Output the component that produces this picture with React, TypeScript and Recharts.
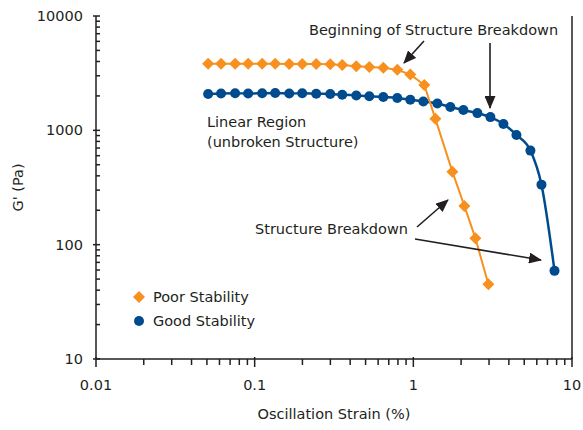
import React from 'react';
import { ComposedChart, Line, XAxis, YAxis, ReferenceLine, Legend, Label } from 'recharts';

// Strain sweep data (log-log)
const poorStrain = [
  0.0509, 0.0614, 0.0753, 0.091, 0.1115, 0.1347, 0.1651, 0.1994, 0.2443, 0.2995, 0.3565,
  0.4369, 0.528, 0.6466, 0.7925, 0.957, 1.173, 1.377, 1.762, 2.098, 2.461, 2.972,
];
const poorModulus = [
  3820, 3830, 3820, 3830, 3820, 3820, 3810, 3810, 3800, 3780, 3730,
  3640, 3580, 3520, 3380, 3080, 2490, 1260, 435, 218, 114, 45,
];

const goodStrain = [
  0.0509, 0.0614, 0.0753, 0.091, 0.1115, 0.1347, 0.1651, 0.1994, 0.2443, 0.2995, 0.3565,
  0.4369, 0.528, 0.6466, 0.7925, 0.957, 1.156, 1.417, 1.712, 2.068, 2.534, 3.06, 3.697,
  4.465, 5.47, 6.42, 7.76,
];
const goodModulus = [
  2080, 2100, 2110, 2100, 2110, 2120, 2100, 2110, 2090, 2080, 2050,
  2020, 1990, 1955, 1920, 1850, 1790, 1715, 1600, 1505, 1415, 1305, 1135,
  910, 665, 335, 59,
];

const xMajorTicks = [0.01, 0.1, 1, 10];
const xMinorTicks = [
  0.02, 0.03, 0.04, 0.05, 0.06, 0.07, 0.08, 0.09,
  0.2, 0.3, 0.4, 0.5, 0.6, 0.7, 0.8, 0.9,
  2, 3, 4, 5, 6, 7, 8, 9,
];
const yMajorTicks = [10, 100, 1000, 10000];
const yMinorTicks = [
  20, 30, 40, 50, 60, 70, 80, 90,
  200, 300, 400, 500, 600, 700, 800, 900,
  2000, 3000, 4000, 5000, 6000, 7000, 8000, 9000,
];

const poorData = poorStrain.map((x, i) => ({ x, y: poorModulus[i] }));
const goodData = goodStrain.map((x, i) => ({ x, y: goodModulus[i] }));

const INK = '#231f20';
const ORANGE = '#f7901e';
const BLUE = '#004b8d';
const FONT = '"DejaVu Sans", Lato, sans-serif';
const FS = 14.5;

function XTick({ x, y, payload }: any) {
  const major = xMajorTicks.includes(payload.value);
  return (
    <g>
      <line x1={x} x2={x} y1={major ? y - 2 : y} y2={y + (major ? 8 : 6)} stroke={INK} strokeWidth={1.5} />
      {major && (
        <text x={x} y={y + 31} textAnchor="middle" fontSize={FS} fill={INK} fontFamily={FONT}>
          {payload.value}
        </text>
      )}
    </g>
  );
}

function YTick({ x, y, payload }: any) {
  const major = yMajorTicks.includes(payload.value);
  return (
    <g>
      <line x1={major ? x - 3 : x} x2={x + 4} y1={y} y2={y} stroke={INK} strokeWidth={1.5} />
      {major && (
        <text x={x - 13} y={y + 5} textAnchor="end" fontSize={FS} fill={INK} fontFamily={FONT}>
          {payload.value}
        </text>
      )}
    </g>
  );
}

const diamondDot = (p: any) => {
  const { cx, cy, index } = p;
  const s = 6;
  return (
    <polygon
      key={`pd-${index}`}
      points={`${cx},${cy - s} ${cx + s},${cy} ${cx},${cy + s} ${cx - s},${cy}`}
      fill={ORANGE}
    />
  );
};

const circleDot = (p: any) => <circle key={`gd-${p.index}`} cx={p.cx} cy={p.cy} r={5} fill={BLUE} />;

function LegendBox() {
  const row = { display: 'flex', alignItems: 'center', height: 24 } as const;
  return (
    <div style={{ fontFamily: FONT, fontSize: FS, color: INK }}>
      <div style={row}>
        <svg width={20} height={14}>
          <polygon points="7,1 13,7 7,13 1,7" fill={ORANGE} />
        </svg>
        <span style={{ marginLeft: 1 }}>Poor Stability</span>
      </div>
      <div style={row}>
        <svg width={20} height={14}>
          <circle cx={7} cy={7} r={5} fill={BLUE} />
        </svg>
        <span style={{ marginLeft: 1 }}>Good Stability</span>
      </div>
    </div>
  );
}

function Annotations() {
  const t = { fontFamily: FONT, fontSize: FS, fill: INK };
  const arrow = { stroke: INK, strokeWidth: 1.6, markerEnd: 'url(#head)' };
  return (
    <svg width={583} height={430} style={{ position: 'absolute', left: 0, top: 0, pointerEvents: 'none' }}>
      <defs>
        <marker id="head" markerUnits="userSpaceOnUse" markerWidth={13} markerHeight={11} refX={12} refY={5.5} orient="auto">
          <path d="M0,0 L13,5.5 L0,11 z" fill={INK} />
        </marker>
      </defs>
      <text x={309} y={35} {...t}>Beginning of Structure Breakdown</text>
      <line x1={424} y1={41} x2={404} y2={63} {...arrow} />
      <line x1={490} y1={43} x2={490} y2={108} {...arrow} />
      <text x={207} y={127} {...t}>Linear Region</text>
      <text x={207} y={147} {...t}>(unbroken Structure)</text>
      <text x={255} y={234} {...t}>Structure Breakdown</text>
      <line x1={417} y1={227} x2={448} y2={200} {...arrow} />
      <line x1={415} y1={239} x2={541} y2={260} {...arrow} />
    </svg>
  );
}

export default function App() {
  return (
    <div style={{ position: 'absolute', left: 0, top: 0, width: 583, height: 430, background: '#fff' }}>
      <ComposedChart width={583} height={430} margin={{ top: 16, right: 11, bottom: 0, left: 0 }}>
        <XAxis
          type="number"
          dataKey="x"
          scale="log"
          domain={[0.01, 10]}
          ticks={[...xMajorTicks, ...xMinorTicks]}
          interval={0}
          tickSize={0}
          tickMargin={0}
          tickLine={false}
          tick={<XTick />}
          axisLine={{ stroke: INK, strokeWidth: 1.5 }}
          height={71}
          allowDataOverflow
        >
          <Label
            content={({ viewBox }: any) => (
              <text x={viewBox.x + viewBox.width / 2} y={419} textAnchor="middle" fontFamily={FONT} fontSize={FS} fill={INK}>
                Oscillation Strain (%)
              </text>
            )}
          />
        </XAxis>
        <YAxis
          type="number"
          dataKey="y"
          scale="log"
          domain={[10, 10000]}
          ticks={[...yMajorTicks, ...yMinorTicks]}
          interval={0}
          tickSize={0}
          tickMargin={0}
          tickLine={false}
          tick={<YTick />}
          axisLine={{ stroke: INK, strokeWidth: 1.5 }}
          width={96}
          allowDataOverflow
        >
          <Label
            content={({ viewBox }: any) => {
              const cy = viewBox.y + viewBox.height / 2;
              return (
                <text x={23} y={cy} transform={`rotate(-90 23 ${cy})`} textAnchor="middle" fontFamily={FONT} fontSize={FS} fill={INK}>
                  G' (Pa)
                </text>
              );
            }}
          />
        </YAxis>
        <ReferenceLine x={10} stroke={INK} strokeWidth={1.5} />
        <Line
          data={goodData}
          dataKey="y"
          name="Good Stability"
          type="monotone"
          stroke={BLUE}
          strokeWidth={2.5}
          dot={circleDot}
          activeDot={false}
          isAnimationActive={false}
        />
        <Line
          data={poorData}
          dataKey="y"
          name="Poor Stability"
          type="linear"
          stroke={ORANGE}
          strokeWidth={2}
          dot={diamondDot}
          activeDot={false}
          isAnimationActive={false}
        />
        <Legend
          layout="vertical"
          align="center"
          verticalAlign="middle"
          content={() => <LegendBox />}
          wrapperStyle={{ position: 'absolute', left: 132, top: 285, width: 'auto', height: 'auto' }}
        />
      </ComposedChart>
      <Annotations />
    </div>
  );
}
